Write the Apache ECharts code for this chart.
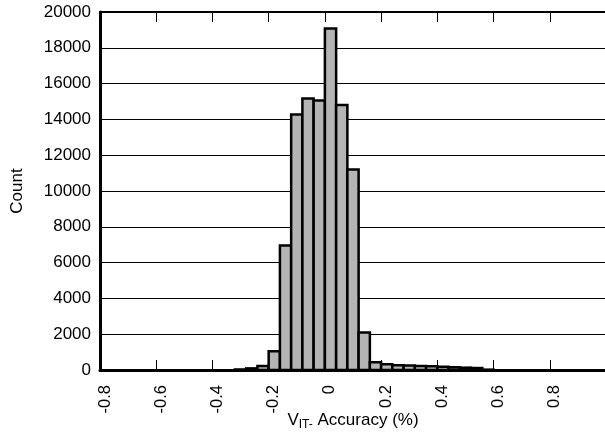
<!DOCTYPE html>
<html>
<head>
<meta charset="utf-8">
<script src="https://cdn.jsdelivr.net/npm/echarts@6/dist/echarts.min.js"></script>
<style>html,body{margin:0;padding:0;background:#fff;}#c{width:605px;height:432px;}</style>
</head>
<body>
<div id="c"></div>
<script>
const binWidth = 0.04;
const binLeft = [-0.32, -0.28, -0.24, -0.20, -0.16, -0.12, -0.08, -0.04, 0.00, 0.04, 0.08, 0.12, 0.16, 0.20, 0.24, 0.28, 0.32, 0.36, 0.40, 0.44, 0.48, 0.52, 0.56];
const counts  = [30, 90, 220, 1050, 6960, 14280, 15170, 15060, 19080, 14810, 11200, 2100, 430, 320, 260, 250, 230, 210, 180, 150, 130, 110, 20];
const xTicks = { min: -0.8, max: 1.0, interval: 0.2 };
const yTicks = { min: 0, max: 20000, interval: 2000 };

const data = binLeft.map((l, i) => [l, l + binWidth, counts[i]]);
const font = 'Liberation Sans, Arial, Helvetica, sans-serif';

const chart = echarts.init(document.getElementById('c'), null, { renderer: 'canvas' });
chart.setOption({
  animation: false,
  backgroundColor: '#fff',
  grid: { left: 100, right: -1, top: 12, bottom: 62, containLabel: false, outerBoundsMode: 'none' },
  xAxis: [{
    type: 'value', position: 'bottom',
    min: xTicks.min, max: xTicks.max, interval: xTicks.interval,
    axisLine: { show: true, onZero: false, lineStyle: { color: '#000', width: 3 } },
    axisTick: { show: true, inside: true, length: 10, lineStyle: { color: '#000', width: 1 } },
    splitLine: { show: false },
    axisLabel: {
      rotate: 90, margin: 15, color: '#000', fontSize: 16.5, fontFamily: font,
      showMaxLabel: false, verticalAlign: 'top', lineHeight: 10,
      formatter: v => (Math.abs(v) < 1e-9 ? '0' : String(Math.round(v * 10) / 10))
    },
    name: '{v|V}{s|IT-}{v| Accuracy (%)}',
    nameLocation: 'middle', nameGap: 40, nameMoveOverlap: false,
    nameTextStyle: {
      rich: {
        v: { fontSize: 17, fontFamily: font, color: '#000', lineHeight: 20 },
        s: { fontSize: 12, fontFamily: font, color: '#000', lineHeight: 20, padding: [10, 0, 0, 0] }
      }
    }
  }, {
    type: 'value', position: 'top',
    min: xTicks.min, max: xTicks.max, interval: xTicks.interval,
    axisLine: { show: true, onZero: false, lineStyle: { color: '#000', width: 2 } },
    axisTick: { show: true, inside: true, length: 10, lineStyle: { color: '#000', width: 1 } },
    axisLabel: { show: false },
    splitLine: { show: false }
  }],
  yAxis: {
    type: 'value', min: yTicks.min, max: yTicks.max, interval: yTicks.interval,
    axisLine: { show: true, onZero: false, lineStyle: { color: '#000', width: 3 } },
    axisTick: { show: false },
    splitLine: { show: true, lineStyle: { color: '#000', width: 1 } },
    axisLabel: { color: '#000', fontSize: 17, fontFamily: font, margin: 9, formatter: v => String(v) },
    name: 'Count', nameLocation: 'middle', nameGap: 74, nameMoveOverlap: false,
    nameTextStyle: { color: '#000', fontSize: 17, fontFamily: font }
  },
  series: [{
    type: 'custom',
    xAxisIndex: 0,
    data: data,
    encode: { x: [0, 1], y: 2 },
    renderItem: function (params, api) {
      const p0 = api.coord([api.value(0), 0]);
      const p1 = api.coord([api.value(1), api.value(2)]);
      return {
        type: 'rect',
        shape: { x: p0[0], y: p1[1], width: p1[0] - p0[0], height: p0[1] - p1[1] },
        style: { fill: '#b4b4b4', stroke: '#000', lineWidth: 2.5 }
      };
    }
  }]
});
</script>
</body>
</html>
